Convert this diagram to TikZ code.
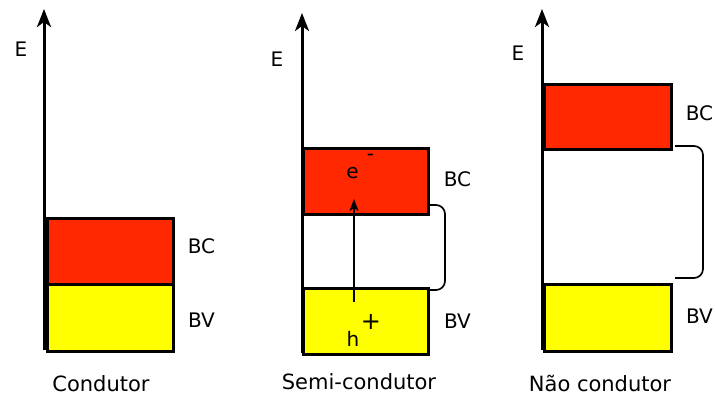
\documentclass[tikz,border=0pt]{standalone}
\usepackage{fontspec}
\setmainfont{DejaVu Sans}
\usetikzlibrary{arrows.meta}
\definecolor{bandred}{RGB}{255,40,0}
\definecolor{bandyellow}{RGB}{255,255,0}
\begin{document}
\begin{tikzpicture}[x=1pt,y=-1pt,
  lbl/.style={inner sep=0pt,anchor=base,font=\fontsize{20}{24}\selectfont},
  caption/.style={lbl,font=\fontsize{21}{25}\selectfont},
  band/.style={draw=black,line width=2.5pt,inner sep=0pt,anchor=north west,minimum width=#1},
  condband/.style={band=#1,fill=bandred},
  valband/.style={band=#1,fill=bandyellow},
  energyaxis/.style={line width=3pt,-{Stealth[length=18pt,width=14pt,inset=5pt]}},
  gap/.style={line width=1.7pt,rounded corners=9pt},
  excite/.style={line width=1.4pt,-{Stealth[length=12pt,width=9pt,inset=3pt]}}]
\useasboundingbox (0,0) rectangle (715,397);

% ---- Condutor ----
\node[condband=126pt,minimum height=66pt] (bc1) at (46,217) {};
\node[valband=126pt,minimum height=67pt] (bv1) at (46,283) {};
\coordinate (a1b) at (44,350);
\coordinate (a1t) at (44,9);
\draw[energyaxis] (a1b) -- (a1t);
\node[lbl] (e1) at (21,56.7) {E};
\node[lbl] (lbc1) at (201.5,253) {BC};
\node[lbl] (lbv1) at (201.5,327) {BV};
\node[caption] (t1) at (101,391) {Condutor};

% ---- Semi-condutor ----
\node[condband=125pt,minimum height=66pt] (bc2) at (302,147) {};
\node[valband=125pt,minimum height=66pt] (bv2) at (302,287) {};
\coordinate (a2b) at (302,353);
\coordinate (a2t) at (302,13);
\draw[energyaxis] (a2b) -- (a2t);
\node[lbl] (e2) at (277,66.7) {E};
\node[lbl] (lbc2) at (457.5,186) {BC};
\node[lbl] (lbv2) at (457.5,328) {BV};
\node[caption] (t2) at (359,389.5) {Semi-condutor};
\coordinate (g2t) at (429,205);
\coordinate (g2r) at (445,248);
\coordinate (g2b) at (429,290);
\draw[gap] (g2t) -- (g2r |- g2t) -- (g2r |- g2b) -- (g2b);
\coordinate (ex0) at (354,302);
\coordinate (ex1) at (354,199);
\draw[excite] (ex0) -- (ex1);
\node[lbl] (el) at (352.5,178) {e};
\node[lbl] (elm) at (370.5,160.5) {-};
\node[lbl] (ho) at (353,346) {h};
\node[inner sep=0pt,font=\fontsize{24}{28}\selectfont] (hop) at (371,322) {+};

% ---- Não condutor ----
\node[condband=127pt,minimum height=65pt] (bc3) at (543,83) {};
\node[valband=127pt,minimum height=67pt] (bv3) at (543,283) {};
\coordinate (a3b) at (542,350);
\coordinate (a3t) at (542,9);
\draw[energyaxis] (a3b) -- (a3t);
\node[lbl] (e3) at (518,60) {E};
\node[lbl] (lbc3) at (699.5,120) {BC};
\node[lbl] (lbv3) at (699.5,323) {BV};
\node[caption] (t3) at (600,391) {Não condutor};
\coordinate (g3t) at (675,146);
\coordinate (g3r) at (703,212);
\coordinate (g3b) at (675,278);
\draw[gap] (g3t) -- (g3r |- g3t) -- (g3r |- g3b) -- (g3b);
\end{tikzpicture}
\end{document}
